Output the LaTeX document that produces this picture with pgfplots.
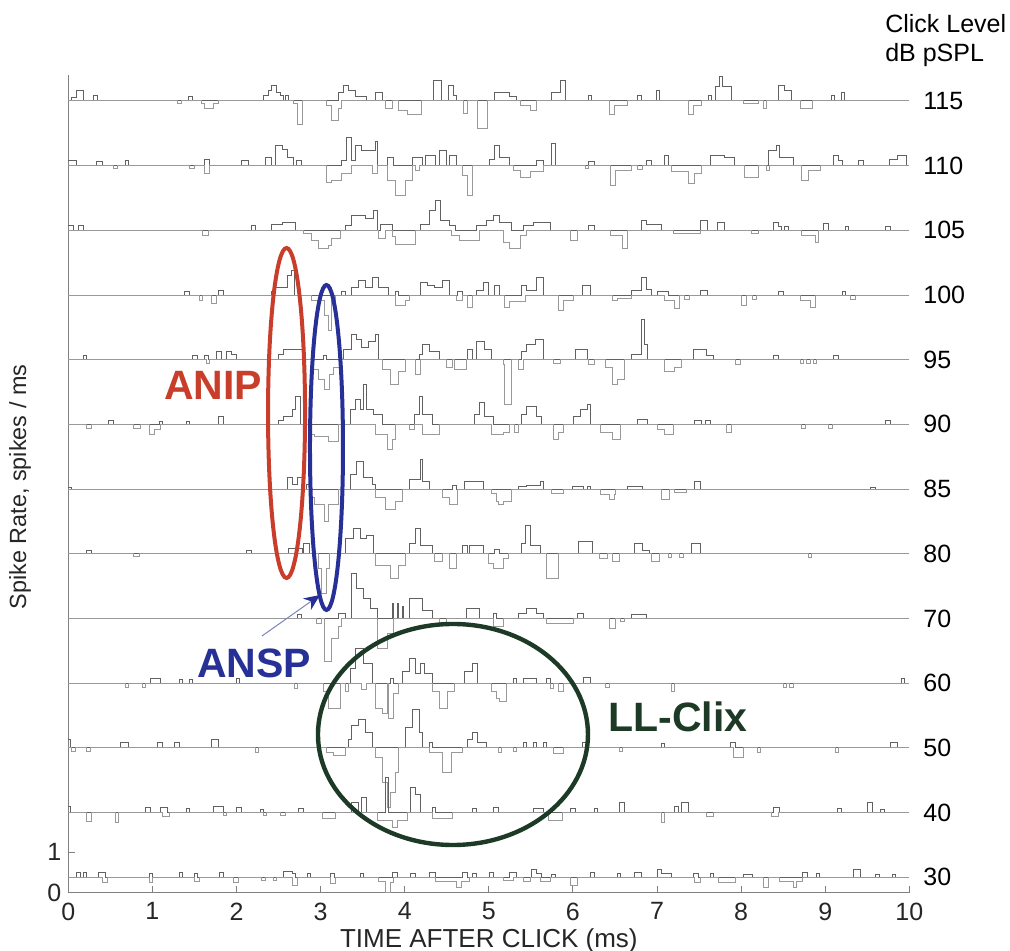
\documentclass[border=0pt]{standalone}
\usepackage{fontspec}
\setmainfont{Liberation Sans}
\usepackage{pgfplots}
\pgfplotsset{compat=1.18}
\usetikzlibrary{arrows.meta}
\definecolor{anipred}{RGB}{200,62,42}
\definecolor{anspblue}{RGB}{38,48,150}
\definecolor{llgreen}{RGB}{28,58,38}
\newcommand\lab{\fontsize{12.5}{15}\selectfont}
\newcommand\annfont{\fontsize{20.5}{24}\selectfont\bfseries}
\pgfplotsset{
 trp/.style={const plot, no markers, draw=black!62, line width=0.4pt},
 trn/.style={const plot, no markers, draw=black!40, line width=0.4pt},
}
\begin{document}
\begin{tikzpicture}
\path[use as bounding box] (-34.15pt,-29.15pt) rectangle (470.85pt,446.35pt);
\begin{axis}[
  at={(0,0)}, anchor=south west,
  scale only axis, width=420.5pt, height=408.85pt,
  xmin=0, xmax=10, ymin=0, ymax=817.7,
  axis lines*=left,
  axis line style={black!50, line width=0.5pt},
  xtick={0,1,...,10}, ytick={0,40.4}, yticklabels={0,1},
  tick align=inside, major tick length=3.5pt,
  tick style={black!50, line width=0.5pt},
  ticklabel style={font=\lab, text=black!85},
  xticklabel style={yshift=-1.5pt},
  /pgf/number format/assume math mode=true,
  clip=false,
]
% ---- 115 dB (base 791.8)
\addplot[trp] table[row sep=\\, y expr=\thisrow{y}+791.8]{x y\\
0 0\\ 0.04 3\\ 0.1 10\\ 0.18 0\\ 0.3 5\\ 0.35 0\\ 1.43 4\\ 1.47 0\\ 2.32 5\\ 2.38 10\\ 2.42 15\\ 2.48 8\\ 2.52 5\\ 2.56 0\\ 2.58 5\\ 2.62 0\\
3.21 8\\ 3.27 15\\ 3.33 10\\ 3.41 4\\ 3.55 0\\ 3.65 8\\ 3.74 0\\ 4.34 20\\ 4.44 0\\ 4.52 15\\ 4.58 5\\ 4.62 0\\ 5.07 8\\ 5.25 4\\ 5.33 0\\
5.75 8\\ 5.85 20\\ 5.91 0\\ 6.18 5\\ 6.22 0\\ 6.77 5\\ 6.81 0\\ 6.99 10\\ 7.03 0\\ 7.61 5\\ 7.65 0\\ 7.7 14\\ 7.74 24\\ 7.78 14\\ 7.88 0\\
8.44 15\\ 8.52 10\\ 8.6 0\\ 9.07 5\\ 9.11 0\\ 9.19 8\\ 9.23 0\\ 10 0\\};
\addplot[trn] table[row sep=\\, y expr=\thisrow{y}+791.8]{x y\\
0 0\\ 1.3 -3\\ 1.35 0\\ 1.58 -3\\ 1.62 -8\\ 1.72 -3\\ 1.78 0\\ 2.68 -3\\ 2.72 -24\\ 2.78 0\\ 3.07 -5\\ 3.13 -20\\ 3.21 -8\\ 3.25 0\\
3.77 -8\\ 3.85 0\\ 3.93 -10\\ 4.03 -14\\ 4.2 0\\ 4.7 -13\\ 4.74 0\\ 4.86 -28\\ 4.98 0\\ 5.37 -5\\ 5.49 -10\\ 5.57 0\\ 6.43 -14\\ 6.49 -5\\ 6.65 0\\
7.37 -14\\ 7.43 -5\\ 7.53 0\\ 8.03 -3\\ 8.2 0\\ 8.26 -8\\ 8.3 0\\ 8.7 -8\\ 8.85 0\\ 10 0\\};
% ---- 110 dB (base 727.1)
\addplot[trp] table[row sep=\\, y expr=\thisrow{y}+727.1]{x y\\
0 5\\ 0.1 0\\ 0.34 4\\ 0.4 0\\ 0.68 5\\ 0.72 0\\ 1.62 6\\ 1.68 0\\ 2.06 5\\ 2.14 0\\ 2.34 8\\ 2.42 0\\ 2.46 20\\ 2.54 16\\ 2.6 8\\ 2.68 0\\ 2.71 5\\ 2.77 0\\
3.25 5\\ 3.31 28\\ 3.37 5\\ 3.41 20\\ 3.49 15\\ 3.65 24\\ 3.68 0\\ 3.79 8\\ 3.87 0\\ 4.09 8\\ 4.21 0\\ 4.25 10\\ 4.37 0\\ 4.41 15\\ 4.49 0\\ 4.53 10\\ 4.61 0\\
5.01 6\\ 5.07 20\\ 5.13 8\\ 5.25 0\\ 5.57 5\\ 5.65 0\\ 5.75 22\\ 5.79 0\\ 6.19 4\\ 6.25 0\\ 6.87 5\\ 6.93 0\\ 7.09 10\\ 7.13 0\\ 7.64 10\\ 7.8 8\\ 7.92 0\\
8.32 15\\ 8.42 20\\ 8.46 8\\ 8.62 0\\ 9.1 10\\ 9.16 5\\ 9.2 0\\ 9.4 5\\ 9.46 0\\ 9.76 6\\ 9.86 10\\ 9.96 0\\ 10 0\\};
\addplot[trn] table[row sep=\\, y expr=\thisrow{y}+727.1]{x y\\
0 0\\ 0.54 -3\\ 0.58 0\\ 1.44 -3\\ 1.5 0\\ 1.62 -8\\ 1.68 0\\ 3.07 -17\\ 3.13 -15\\ 3.25 -8\\ 3.37 0\\ 3.61 -8\\ 3.67 0\\ 3.79 -15\\ 3.89 -30\\ 4.01 -15\\ 4.09 0\\
4.13 -5\\ 4.17 0\\ 4.69 -10\\ 4.75 -30\\ 4.81 0\\ 5.29 -5\\ 5.37 -12\\ 5.49 -6\\ 5.65 0\\ 6.15 -3\\ 6.19 0\\ 6.45 -20\\ 6.51 -5\\ 6.69 0\\ 6.77 -4\\ 6.83 0\\
7.17 -6\\ 7.37 -18\\ 7.45 -8\\ 7.53 0\\ 8.04 -12\\ 8.2 0\\ 8.3 -5\\ 8.34 0\\ 8.72 -15\\ 8.8 -5\\ 8.94 0\\ 10 0\\};
% ---- 105 dB (base 662.4)
\addplot[trp] table[row sep=\\, y expr=\thisrow{y}+662.4]{x y\\
0 5\\ 0.06 0\\ 0.12 5\\ 0.18 0\\ 2.18 5\\ 2.22 0\\ 2.42 6\\ 2.54 8\\ 2.7 0\\ 3.29 5\\ 3.37 15\\ 3.53 12\\ 3.63 20\\ 3.67 0\\ 3.71 6\\ 3.85 0\\
4.19 6\\ 4.29 20\\ 4.37 30\\ 4.43 10\\ 4.53 5\\ 4.6 0\\ 4.85 5\\ 4.97 10\\ 5.05 15\\ 5.13 8\\ 5.27 0\\ 5.41 5\\ 5.53 8\\ 5.73 0\\ 6.19 5\\ 6.25 0\\
6.81 10\\ 6.87 6\\ 7.05 0\\ 7.52 10\\ 7.6 0\\ 7.72 8\\ 7.8 0\\ 8.38 8\\ 8.44 4\\ 8.48 0\\ 8.52 4\\ 8.56 0\\ 8.98 7\\ 9.04 0\\ 9.24 4\\ 9.28 0\\ 9.72 4\\ 9.78 0\\ 10 0\\};
\addplot[trn] table[row sep=\\, y expr=\thisrow{y}+662.4]{x y\\
0 0\\ 1.6 -5\\ 1.66 0\\ 2.79 -3\\ 2.89 -10\\ 2.97 -18\\ 3.09 -15\\ 3.13 -8\\ 3.23 0\\ 3.69 -8\\ 3.77 0\\ 3.85 -6\\ 3.89 -14\\ 4.13 0\\
4.55 -5\\ 4.65 -10\\ 4.89 0\\ 5.17 -12\\ 5.25 -18\\ 5.37 -5\\ 5.45 0\\ 5.97 -10\\ 6.05 0\\ 6.45 -5\\ 6.59 -18\\ 6.65 0\\ 7.2 -3\\ 7.52 0\\
8.12 -3\\ 8.2 0\\ 8.72 -5\\ 8.88 -12\\ 8.92 0\\ 10 0\\};
% ---- 100 dB (base 597.7)
\addplot[trp] table[row sep=\\, y expr=\thisrow{y}+597.7]{x y\\
0 0\\ 1.38 4\\ 1.44 0\\ 1.78 5\\ 1.84 0\\ 2.41 4\\ 2.45 8\\ 2.61 20\\ 2.65 25\\ 2.69 0\\ 3.25 4\\ 3.29 0\\ 3.37 8\\ 3.45 15\\ 3.53 8\\ 3.61 18\\ 3.69 8\\ 3.81 0\\
3.89 4\\ 3.93 0\\ 4.19 13\\ 4.27 10\\ 4.35 8\\ 4.45 15\\ 4.53 0\\ 4.63 4\\ 4.69 0\\ 4.85 5\\ 4.93 13\\ 4.99 0\\ 5.07 10\\ 5.13 0\\ 5.39 10\\ 5.45 5\\ 5.57 18\\ 5.65 0\\
6.11 10\\ 6.21 0\\ 6.69 5\\ 6.81 18\\ 6.87 6\\ 6.93 0\\ 7.01 4\\ 7.13 0\\ 7.52 5\\ 7.6 0\\ 8.44 4\\ 8.5 0\\ 9.2 4\\ 9.24 0\\ 10 0\\};
\addplot[trn] table[row sep=\\, y expr=\thisrow{y}+597.7]{x y\\
0 0\\ 1.56 -5\\ 1.6 0\\ 1.7 -8\\ 1.76 0\\ 2.89 -5\\ 3.05 -20\\ 3.09 -35\\ 3.13 -5\\ 3.17 0\\ 3.89 -10\\ 4.01 -5\\ 4.05 0\\ 4.61 -5\\ 4.69 0\\ 4.75 -12\\ 4.81 0\\
5.19 -12\\ 5.25 -6\\ 5.43 0\\ 5.83 -15\\ 5.89 -5\\ 6.01 0\\ 6.47 -5\\ 6.53 -3\\ 6.69 0\\ 7.09 -5\\ 7.21 -13\\ 7.27 0\\ 7.33 -4\\ 7.39 0\\
8.0 -10\\ 8.06 0\\ 8.14 -4\\ 8.18 0\\ 8.7 -5\\ 8.82 -12\\ 8.88 0\\ 9.3 -4\\ 9.36 0\\ 10 0\\};
% ---- 95 dB (base 533.0)
\addplot[trp] table[row sep=\\, y expr=\thisrow{y}+533.0]{x y\\
0 0\\ 0.18 4\\ 0.22 0\\ 1.48 4\\ 1.54 0\\ 1.62 4\\ 1.66 0\\ 1.76 8\\ 1.82 0\\ 1.88 8\\ 1.94 5\\ 2.0 0\\ 2.5 5\\ 2.56 10\\ 2.78 0\\ 3.03 4\\ 3.07 0\\
3.27 10\\ 3.37 25\\ 3.43 20\\ 3.49 12\\ 3.57 18\\ 3.65 25\\ 3.69 0\\ 4.17 5\\ 4.21 15\\ 4.29 8\\ 4.41 0\\ 4.75 10\\ 4.81 0\\ 4.85 18\\ 4.95 10\\ 5.03 0\\
5.39 8\\ 5.45 15\\ 5.55 20\\ 5.65 0\\ 6.03 10\\ 6.17 0\\ 6.69 5\\ 6.81 40\\ 6.85 15\\ 6.89 0\\ 7.43 10\\ 7.59 4\\ 7.67 0\\ 8.38 4\\ 8.44 0\\ 9.1 4\\ 9.16 0\\ 10 0\\};
\addplot[trn] table[row sep=\\, y expr=\thisrow{y}+533.0]{x y\\
0 0\\ 1.64 -4\\ 1.68 0\\ 2.89 -10\\ 2.97 -20\\ 3.05 -30\\ 3.11 -15\\ 3.15 -8\\ 3.23 0\\ 3.73 -10\\ 3.83 -25\\ 3.93 -12\\ 4.01 0\\ 4.13 -15\\ 4.19 0\\
4.49 -8\\ 4.57 0\\ 4.59 -10\\ 4.73 0\\ 5.17 -5\\ 5.19 -45\\ 5.27 0\\ 5.35 -10\\ 5.41 0\\ 5.77 -4\\ 5.85 0\\ 6.19 -5\\ 6.25 0\\ 6.39 -8\\ 6.47 -25\\ 6.53 -20\\ 6.61 0\\
7.09 -12\\ 7.21 -8\\ 7.29 0\\ 7.93 -5\\ 7.99 0\\ 8.7 -4\\ 8.74 0\\ 8.78 -4\\ 8.82 0\\ 8.86 -4\\ 8.9 0\\ 10 0\\};
% ---- 90 dB (base 468.3)
\addplot[trp] table[row sep=\\, y expr=\thisrow{y}+468.3]{x y\\
0 0\\ 0.48 4\\ 0.54 0\\ 1.08 3\\ 1.12 0\\ 1.4 3\\ 1.44 0\\ 1.78 8\\ 1.84 0\\ 2.5 4\\ 2.56 8\\ 2.66 15\\ 2.7 28\\ 2.76 0\\ 3.35 15\\ 3.41 25\\ 3.47 15\\ 3.51 40\\ 3.55 15\\ 3.63 10\\ 3.73 0\\
4.11 10\\ 4.17 28\\ 4.21 10\\ 4.33 0\\ 4.83 10\\ 4.89 22\\ 4.95 8\\ 5.05 0\\ 5.39 10\\ 5.45 18\\ 5.57 8\\ 5.63 0\\ 6.01 8\\ 6.09 15\\ 6.17 20\\ 6.21 0\\
6.77 5\\ 6.89 0\\ 7.45 4\\ 7.53 0\\ 7.57 4\\ 7.63 0\\ 9.72 4\\ 9.78 0\\ 10 0\\};
\addplot[trn] table[row sep=\\, y expr=\thisrow{y}+468.3]{x y\\
0 0\\ 0.22 -4\\ 0.28 0\\ 0.78 -4\\ 0.86 0\\ 0.96 -10\\ 1.02 -5\\ 1.1 0\\ 2.85 -10\\ 2.93 -12\\ 3.09 -17\\ 3.21 0\\ 3.65 -10\\ 3.79 -25\\ 3.85 -15\\ 3.89 0\\
4.05 -5\\ 4.11 0\\ 4.21 -10\\ 4.41 0\\ 5.03 -10\\ 5.17 -8\\ 5.25 0\\ 5.31 -8\\ 5.35 0\\ 5.77 -15\\ 5.83 -8\\ 5.89 0\\ 6.33 -8\\ 6.47 -15\\ 6.57 0\\
7.01 -5\\ 7.09 -10\\ 7.19 0\\ 7.82 -8\\ 7.88 0\\ 8.72 -4\\ 8.76 0\\ 9.04 -4\\ 9.08 0\\ 10 0\\};
% ---- 85 dB (base 403.6)
\addplot[trp] table[row sep=\\, y expr=\thisrow{y}+403.6]{x y\\
0 2\\ 0.04 0\\ 2.6 12\\ 2.66 5\\ 2.73 12\\ 2.79 0\\ 2.83 5\\ 2.87 0\\ 3.35 15\\ 3.43 28\\ 3.51 12\\ 3.61 5\\ 3.65 0\\ 4.05 10\\ 4.19 30\\ 4.21 8\\ 4.29 0\\
4.57 4\\ 4.61 0\\ 4.71 8\\ 4.93 0\\ 5.35 3\\ 5.45 4\\ 5.61 8\\ 5.65 0\\ 5.99 3\\ 6.13 0\\ 6.17 3\\ 6.21 0\\ 6.65 3\\ 6.83 0\\ 7.45 8\\ 7.51 0\\ 9.54 2\\ 9.6 0\\ 10 0\\};
\addplot[trn] table[row sep=\\, y expr=\thisrow{y}+403.6]{x y\\
0 0\\ 2.87 -8\\ 2.93 -15\\ 3.05 -32\\ 3.09 -15\\ 3.21 0\\ 3.65 -8\\ 3.77 -20\\ 3.89 -12\\ 3.97 0\\ 4.45 -8\\ 4.53 -15\\ 4.63 0\\
5.03 -4\\ 5.09 -12\\ 5.11 -15\\ 5.17 -12\\ 5.27 0\\ 5.75 -4\\ 5.89 0\\ 6.33 -5\\ 6.43 -10\\ 6.49 -5\\ 6.51 0\\ 7.05 -10\\ 7.15 0\\ 7.21 -3\\ 7.35 0\\ 10 0\\};
% ---- 80 dB (base 338.9)
\addplot[trp] table[row sep=\\, y expr=\thisrow{y}+338.9]{x y\\
0 0\\ 0.22 3\\ 0.28 0\\ 2.12 3\\ 2.18 0\\ 2.62 5\\ 2.7 0\\ 2.72 5\\ 2.78 0\\ 2.79 10\\ 2.87 0\\ 3.29 15\\ 3.39 25\\ 3.47 15\\ 3.55 18\\ 3.63 0\\
4.05 10\\ 4.13 25\\ 4.19 8\\ 4.33 0\\ 4.69 8\\ 4.75 0\\ 4.77 8\\ 4.93 0\\ 5.07 4\\ 5.13 0\\ 5.39 10\\ 5.43 28\\ 5.49 8\\ 5.61 0\\ 6.07 12\\ 6.23 0\\
6.73 10\\ 6.83 3\\ 6.91 0\\ 7.41 10\\ 7.51 0\\ 10 0\\};
\addplot[trn] table[row sep=\\, y expr=\thisrow{y}+338.9]{x y\\
0 0\\ 0.78 -3\\ 0.84 0\\ 2.97 -15\\ 3.01 -40\\ 3.07 -15\\ 3.11 0\\ 3.65 -12\\ 3.83 -25\\ 3.93 -12\\ 4.01 0\\ 4.35 -8\\ 4.45 0\\ 4.53 -15\\ 4.61 0\\
4.99 -10\\ 5.05 -15\\ 5.17 -5\\ 5.23 0\\ 5.69 -25\\ 5.83 0\\ 6.31 -5\\ 6.41 0\\ 6.47 -8\\ 6.55 0\\ 6.93 -8\\ 7.03 0\\ 7.13 -4\\ 7.17 0\\ 7.27 -4\\ 7.31 0\\ 8.8 -4\\ 8.84 0\\ 10 0\\};
% ---- 70 dB (base 274.2)
\addplot[trp] table[row sep=\\, y expr=\thisrow{y}+274.2]{x y\\
0 0\\ 2.73 4\\ 2.77 0\\ 3.21 5\\ 3.29 0\\ 3.37 45\\ 3.43 30\\ 3.51 20\\ 3.59 10\\ 3.67 0\\ 3.85 15\\ 3.87 0\\ 3.91 15\\ 3.93 0\\ 3.97 12\\ 3.99 0\\
4.05 20\\ 4.21 8\\ 4.33 0\\ 4.73 10\\ 4.89 0\\ 5.05 5\\ 5.09 0\\ 5.35 5\\ 5.45 10\\ 5.57 5\\ 5.65 0\\ 6.05 5\\ 6.13 0\\ 6.69 4\\ 6.87 0\\ 10 0\\};
\addplot[trn] table[row sep=\\, y expr=\thisrow{y}+274.2]{x y\\
0 0\\ 2.95 -5\\ 3.01 0\\ 3.05 -43\\ 3.13 -20\\ 3.21 -8\\ 3.25 0\\ 3.67 -30\\ 3.79 -15\\ 3.87 0\\ 4.41 -5\\ 4.49 0\\ 5.05 -8\\ 5.17 0\\
5.69 -5\\ 6.01 0\\ 6.43 -10\\ 6.51 0\\ 6.57 -3\\ 6.61 0\\ 10 0\\};
% ---- 60 dB (base 209.5)
\addplot[trp] table[row sep=\\, y expr=\thisrow{y}+209.5]{x y\\
0 0\\ 0.98 5\\ 1.1 0\\ 1.32 4\\ 1.36 0\\ 1.44 4\\ 1.48 0\\ 2.0 5\\ 2.04 0\\ 3.35 15\\ 3.41 35\\ 3.51 20\\ 3.61 0\\ 3.83 5\\ 3.87 0\\
3.97 12\\ 4.05 25\\ 4.13 10\\ 4.19 20\\ 4.23 10\\ 4.33 0\\ 4.71 12\\ 4.81 20\\ 4.87 0\\ 5.29 5\\ 5.33 0\\ 5.41 5\\ 5.57 0\\ 5.69 5\\ 5.73 0\\
6.13 6\\ 6.21 0\\ 9.9 5\\ 9.94 0\\ 10 0\\};
\addplot[trn] table[row sep=\\, y expr=\thisrow{y}+209.5]{x y\\
0 0\\ 0.68 -4\\ 0.72 0\\ 0.88 -4\\ 0.92 0\\ 2.69 -5\\ 2.73 0\\ 3.03 -8\\ 3.09 -25\\ 3.23 0\\ 3.29 -8\\ 3.33 0\\ 3.49 -6\\ 3.55 0\\
3.65 -25\\ 3.73 -30\\ 3.79 0\\ 3.81 -35\\ 3.87 -10\\ 3.93 0\\ 4.33 -8\\ 4.41 -25\\ 4.51 -8\\ 4.59 0\\ 5.03 -8\\ 5.09 -15\\ 5.13 -18\\ 5.21 0\\
5.73 -5\\ 5.77 0\\ 5.83 -8\\ 5.89 0\\ 6.39 -4\\ 6.43 0\\ 7.17 -8\\ 7.21 0\\ 8.5 -4\\ 8.54 0\\ 8.58 -4\\ 8.62 0\\ 10 0\\};
% ---- 50 dB (base 144.8)
\addplot[trp] table[row sep=\\, y expr=\thisrow{y}+144.8]{x y\\
0 8\\ 0.02 0\\ 0.62 5\\ 0.72 0\\ 1.06 5\\ 1.12 0\\ 1.26 5\\ 1.32 0\\ 1.7 8\\ 1.78 0\\ 3.33 8\\ 3.37 22\\ 3.45 28\\ 3.53 15\\ 3.61 0\\
4.01 20\\ 4.09 38\\ 4.17 15\\ 4.21 0\\ 4.29 5\\ 4.33 0\\ 4.75 8\\ 4.81 15\\ 4.87 5\\ 4.97 0\\ 5.41 5\\ 5.45 0\\ 5.53 5\\ 5.57 0\\ 5.65 5\\ 5.69 0\\
6.11 5\\ 6.19 0\\ 7.05 4\\ 7.09 0\\ 7.87 5\\ 7.93 0\\ 9.78 5\\ 9.86 0\\ 10 0\\};
\addplot[trn] table[row sep=\\, y expr=\thisrow{y}+144.8]{x y\\
0 0\\ 0.04 -4\\ 0.08 0\\ 0.22 -4\\ 0.26 0\\ 2.22 -5\\ 2.26 0\\ 3.07 -5\\ 3.15 -8\\ 3.29 0\\ 3.65 -10\\ 3.73 -35\\ 3.79 -60\\ 3.83 -45\\ 3.89 -25\\ 3.93 0\\
4.29 -5\\ 4.45 -25\\ 4.55 -5\\ 4.69 0\\ 5.11 -5\\ 5.15 0\\ 5.29 -4\\ 5.33 0\\ 5.77 -6\\ 5.89 0\\ 6.55 -4\\ 6.59 0\\ 7.91 -10\\ 8.03 0\\ 8.19 -5\\ 8.23 0\\ 9.12 -5\\ 9.16 0\\ 10 0\\};
% ---- 40 dB (base 80.1)
\addplot[trp] table[row sep=\\, y expr=\thisrow{y}+80.1]{x y\\
0 6\\ 0.02 0\\ 0.92 5\\ 0.98 0\\ 1.1 5\\ 1.18 0\\ 1.4 4\\ 1.44 0\\ 1.72 6\\ 1.84 0\\ 2.0 5\\ 2.06 0\\ 2.28 3\\ 2.32 0\\ 2.74 4\\ 2.79 0\\
3.37 10\\ 3.45 0\\ 3.49 15\\ 3.55 0\\ 3.77 35\\ 3.81 0\\ 4.07 25\\ 4.13 18\\ 4.19 0\\ 4.33 5\\ 4.37 0\\ 4.81 4\\ 4.85 0\\ 5.05 5\\ 5.11 0\\
5.53 4\\ 5.65 0\\ 5.97 4\\ 6.03 0\\ 6.25 4\\ 6.29 0\\ 6.55 10\\ 6.61 0\\ 7.21 6\\ 7.25 0\\ 7.29 10\\ 7.37 0\\ 8.38 5\\ 8.46 0\\
9.15 4\\ 9.19 0\\ 9.5 10\\ 9.56 0\\ 9.66 3\\ 9.7 0\\ 10 0\\};
\addplot[trn] table[row sep=\\, y expr=\thisrow{y}+80.1]{x y\\
0 0\\ 0.22 -9\\ 0.28 0\\ 0.56 -10\\ 0.6 0\\ 1.12 -4\\ 1.2 0\\ 1.84 -3\\ 1.88 0\\ 2.32 -3\\ 2.36 0\\ 2.52 -3\\ 2.58 0\\ 3.02 -6\\ 3.17 0\\
3.67 -8\\ 3.85 -15\\ 3.91 -8\\ 4.03 0\\ 4.33 -6\\ 4.57 0\\ 5.71 -8\\ 5.87 0\\ 7.05 -10\\ 7.09 0\\ 7.59 -4\\ 7.67 0\\ 8.36 -4\\ 8.44 0\\ 10 0\\};
% ---- 30 dB (base 15.4)
\addplot[trp] table[row sep=\\, y expr=\thisrow{y}+15.4]{x y\\
0 0\\ 0.1 5\\ 0.14 0\\ 0.18 5\\ 0.22 0\\ 0.36 5\\ 0.44 0\\ 0.96 4\\ 1.0 0\\ 1.32 5\\ 1.36 0\\ 1.5 4\\ 1.54 0\\ 1.8 5\\ 1.84 0\\
2.56 6\\ 2.66 4\\ 2.7 0\\ 2.84 4\\ 2.88 0\\ 3.12 4\\ 3.16 0\\ 3.47 4\\ 3.51 0\\ 3.85 5\\ 3.91 0\\ 4.07 4\\ 4.13 0\\ 4.29 5\\ 4.37 0\\
4.69 5\\ 4.75 0\\ 4.81 4\\ 4.85 0\\ 5.01 5\\ 5.05 0\\ 5.25 5\\ 5.33 0\\ 5.51 8\\ 5.57 4\\ 5.63 0\\ 5.75 3\\ 5.79 0\\ 6.21 5\\ 6.25 0\\
6.53 4\\ 6.57 0\\ 6.73 5\\ 6.81 0\\ 7.01 8\\ 7.05 4\\ 7.17 0\\ 7.43 4\\ 7.49 0\\ 7.63 4\\ 7.67 0\\ 8.03 3\\ 8.13 0\\ 8.73 5\\ 8.79 0\\
8.89 4\\ 8.93 0\\ 9.34 8\\ 9.42 0\\ 9.6 3\\ 9.64 0\\ 9.8 3\\ 9.84 0\\ 10 0\\};
\addplot[trn] table[row sep=\\, y expr=\thisrow{y}+15.4]{x y\\
0 0\\ 0.4 -5\\ 0.46 0\\ 0.96 -5\\ 1.0 0\\ 1.5 -4\\ 1.56 0\\ 1.96 -5\\ 2.02 0\\ 2.3 -3\\ 2.34 0\\ 2.44 -3\\ 2.48 0\\ 2.66 -8\\ 2.72 0\\ 3.12 -6\\ 3.17 0\\
3.69 -4\\ 3.77 -15\\ 3.83 -5\\ 3.87 0\\ 4.37 -4\\ 4.61 -10\\ 4.67 -4\\ 4.77 0\\ 5.17 -3\\ 5.29 0\\ 5.41 -4\\ 5.49 0\\ 5.61 -4\\ 5.73 0\\ 5.97 -8\\ 6.05 0\\
7.45 -5\\ 7.51 0\\ 7.73 -5\\ 7.93 0\\ 8.26 -10\\ 8.32 0\\ 8.45 -4\\ 8.62 -10\\ 8.66 -4\\ 8.73 0\\ 10 0\\};
% ---- level labels
\node[anchor=west, inner sep=0pt, font=\lab] at (axis cs:10.163,791.8) {115};
\node[anchor=west, inner sep=0pt, font=\lab] at (axis cs:10.163,727.1) {110};
\node[anchor=west, inner sep=0pt, font=\lab] at (axis cs:10.163,662.4) {105};
\node[anchor=west, inner sep=0pt, font=\lab] at (axis cs:10.163,597.7) {100};
\node[anchor=west, inner sep=0pt, font=\lab] at (axis cs:10.163,533.0) {95};
\node[anchor=west, inner sep=0pt, font=\lab] at (axis cs:10.163,468.3) {90};
\node[anchor=west, inner sep=0pt, font=\lab] at (axis cs:10.163,403.6) {85};
\node[anchor=west, inner sep=0pt, font=\lab] at (axis cs:10.163,338.9) {80};
\node[anchor=west, inner sep=0pt, font=\lab] at (axis cs:10.163,274.2) {70};
\node[anchor=west, inner sep=0pt, font=\lab] at (axis cs:10.163,209.5) {60};
\node[anchor=west, inner sep=0pt, font=\lab] at (axis cs:10.163,144.8) {50};
\node[anchor=west, inner sep=0pt, font=\lab] at (axis cs:10.163,80.1) {40};
\node[anchor=west, inner sep=0pt, font=\lab] at (axis cs:10.163,15.4) {30};
\node[anchor=base west, inner sep=0pt, font=\lab] at (axis cs:9.71,859.7) {Click Level};
\node[anchor=base west, inner sep=0pt, font=\lab] at (axis cs:9.71,830.7) {dB pSPL};
% ---- axis titles
\node[anchor=base, inner sep=0pt, font=\fontsize{13}{15}\selectfont, text=black!85] at (axis cs:5.0,-55.3) {TIME AFTER CLICK (ms)};
\node[rotate=90, inner sep=0pt, font=\fontsize{11.7}{14}\selectfont, text=black!85] at (axis cs:-0.574,405.7) {Spike Rate, spikes / ms};
% ---- annotations
\draw[anipred, line width=2pt] (axis cs:2.595,479.7) ellipse [x radius=9.25pt, y radius=82.5pt];
\draw[anspblue, line width=2pt] (axis cs:3.070,445.2) ellipse [x radius=8.25pt, y radius=81.25pt];
\draw[llgreen, line width=2.2pt] (axis cs:4.574,158.2) ellipse [x radius=67.5pt, y radius=55.25pt];
\draw[anspblue!60, line width=0.5pt, -{Stealth[length=8pt, width=7pt, color=anspblue]}] (axis cs:2.303,256.7) -- (axis cs:2.993,297.7);
\node[font=\annfont, text=anipred, inner sep=0pt] at (axis cs:1.724,507.7) {ANIP};
\node[font=\annfont, text=anspblue, inner sep=0pt] at (axis cs:2.208,229.7) {ANSP};
\node[font=\annfont, text=llgreen, inner sep=0pt] at (axis cs:7.25,175.7) {LL-Clix};
\end{axis}
\end{tikzpicture}
\end{document}
